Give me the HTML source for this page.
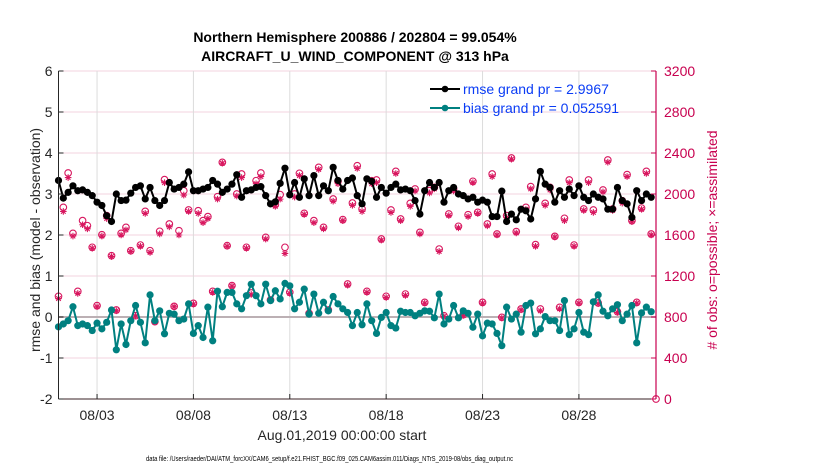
<!DOCTYPE html>
<html><head><meta charset="utf-8"><style>
body{margin:0;background:#fff;}
svg{display:block;font-family:"Liberation Sans",Arial,sans-serif;}
</style></head><body>
<svg id="chart" width="830" height="470"></svg>
<script>
const rmse=[3.33,2.90,3.04,3.20,3.08,3.10,3.04,2.96,2.80,2.72,2.47,2.33,3.00,2.84,2.85,3.02,3.16,3.20,2.88,3.16,2.84,2.72,2.84,3.28,3.12,3.16,3.24,3.54,3.08,3.08,3.12,3.16,3.33,3.24,3.04,3.12,3.24,3.47,2.92,3.08,3.10,3.16,3.18,2.96,2.76,2.81,3.26,3.63,2.98,3.28,2.92,3.37,2.96,3.45,2.96,3.20,3.08,3.65,3.33,3.12,3.33,
3.39,2.96,2.76,3.37,3.31,2.92,3.16,3.02,3.16,3.24,3.10,3.12,3.08,2.84,2.51,3.08,3.28,3.16,3.28,2.80,3.08,3.16,3.00,2.96,2.88,2.92,2.80,2.85,2.80,2.45,2.45,3.07,2.33,2.51,2.37,2.63,2.59,2.39,2.88,3.55,3.24,3.16,2.80,3.08,2.92,3.12,2.96,3.20,2.92,2.84,3.00,2.92,2.88,2.63,2.63,3.16,2.84,2.76,2.43,3.08,2.84,3.00,2.92];
const bias=[-0.24,-0.17,-0.09,0.25,-0.21,-0.17,-0.21,-0.33,-0.15,-0.29,-0.13,0.17,-0.80,-0.17,-0.67,-0.09,0.28,-0.13,-0.63,0.54,-0.09,0.15,-0.41,0.09,0.07,-0.09,-0.05,0.32,-0.40,-0.21,-0.50,0.24,-0.58,0.63,0.25,0.60,0.60,0.32,0.20,0.52,0.80,0.52,0.32,0.80,0.40,0.64,0.44,0.82,0.76,0.20,0.36,0.68,0.07,0.56,0.09,0.36,0.15,0.50,0.32,0.20,0.11,
-0.21,0.11,-0.19,0.32,-0.09,-0.40,-0.01,0.11,-0.21,-0.27,0.14,0.11,0.11,0.03,0.09,0.15,0.14,-0.02,0.56,-0.17,-0.05,0.28,-0.02,0.15,0.09,-0.25,0.07,-0.46,-0.15,-0.17,-0.40,-0.70,0.24,-0.05,0.07,-0.37,0.28,0.34,-0.41,-0.29,0.01,-0.09,-0.09,-0.33,0.40,-0.43,-0.29,0.11,-0.37,-0.43,0.37,0.54,0.14,0.03,0.20,0.30,-0.09,0.07,0.28,-0.63,0.10,0.24,0.13];
const obsPossible=[1002,1870,2205,1616,1050,1740,1691,1480,911,1603,1789,1398,868,1616,1675,1447,813,1502,1831,1447,755,1636,2140,1707,904,1642,2032,1844,933,1837,1740,1779,1050,1974,2309,1496,1106,2000,2195,1480,1034,2130,2205,1577,966,1896,1994,1480,1041,2000,2202,1811,836,1740,2260,1675,868,1951,2124,1750,1122,
1912,2276,1854,1050,2130,2137,1561,1002,1844,2221,1756,1024,1909,2049,1626,943,2033,2065,1463,813,1805,2049,1685,823,1798,2124,1821,943,1707,2195,1610,797,1789,2351,1633,878,1870,2072,1506,878,1909,2065,1587,894,1763,2137,1502,943,1854,2137,1844,937,2039,2332,1854,852,1935,2189,1740,943,1863,2221,1610];
const obsAssim=[980,1830,2160,1590,1030,1700,1660,1470,900,1590,1760,1390,860,1600,1650,1440,810,1490,1810,1430,750,1610,2110,1680,900,1600,1990,1830,925,1810,1720,1760,1040,1950,2300,1490,1100,1980,2160,1470,1020,2100,2170,1560,960,1880,1950,1420,1030,1970,2180,1800,830,1720,2240,1660,860,1930,2100,1740,1110,
1890,2250,1830,1040,2100,2110,1550,990,1820,2200,1740,1010,1880,2030,1610,935,2010,2050,1440,805,1790,2030,1670,815,1780,2110,1810,935,1690,2170,1600,790,1770,2340,1620,870,1850,2050,1490,860,1890,2040,1580,880,1740,2110,1490,935,1840,2110,1820,930,2020,2310,1840,845,1910,2170,1730,935,1850,2200,1600];
const yTicks=[-2,-1,0,1,2,3,4,5,6];
const y2Ticks=[0,400,800,1200,1600,2000,2400,2800,3200];
const xTickDays=[2,7,12,17,22,27];
const xTickLabels=["08/03","08/08","08/13","08/18","08/23","08/28"];

const NS="http://www.w3.org/2000/svg";
const svg=document.getElementById('chart');
const L=58.5,R=656,T=71,B=399,NDAYS=31,STEP=0.25;
const xs=d=>L+(d/NDAYS)*(R-L);
const ys=v=>B-(v+2)/8*(B-T);
const ys2=v=>B-v/3200*(B-T);
function mk(tag,attrs,parent){const e=document.createElementNS(NS,tag);for(const k in attrs)e.setAttribute(k,attrs[k]);(parent||svg).appendChild(e);return e;}
function txt(s,attrs,parent){const e=mk('text',attrs,parent);e.textContent=s;return e;}

const grid=mk('g',{});


yTicks.forEach(v=>{mk('line',{x1:L,x2:R,y1:ys(v),y2:ys(v),stroke:'#f3d3df','stroke-width':1},grid);});
xTickDays.forEach(d=>{mk('line',{x1:xs(d),x2:xs(d),y1:T,y2:B,stroke:'#dcdcdc','stroke-width':1},grid);});
const zl=mk('line',{x1:L,x2:R,y1:ys(0),y2:ys(0),stroke:'#bcb0b4','stroke-width':2});



const og=mk('g',{});


const pink='#d8175f';
obsPossible.forEach((v,i)=>{mk('circle',{cx:xs(i*STEP),cy:ys2(v),r:3.3,fill:'none',stroke:pink,'stroke-width':1.1},og);});
obsAssim.forEach((v,i)=>{const x=xs(i*STEP),y=ys2(v);const s=3.3;
 mk('path',{d:`M${x-s},${y}H${x+s}M${x},${y-s}V${y+s}M${x-s*0.7},${y-s*0.7}L${x+s*0.7},${y+s*0.7}M${x-s*0.7},${y+s*0.7}L${x+s*0.7},${y-s*0.7}`,stroke:pink,'stroke-width':1.1,fill:'none'},og);});
mk('circle',{cx:R,cy:B,r:3.3,fill:'none',stroke:pink,'stroke-width':1.1},og);

const rg=mk('g',{});


mk('polyline',{points:rmse.map((v,i)=>xs(i*STEP)+','+ys(v)).join(' '),fill:'none',stroke:'#000','stroke-width':2},rg);
rmse.forEach((v,i)=>{mk('circle',{cx:xs(i*STEP),cy:ys(v),r:3.6,fill:'#000'},rg);});
const bg=mk('g',{});


mk('polyline',{points:bias.map((v,i)=>xs(i*STEP)+','+ys(v)).join(' '),fill:'none',stroke:'#008080','stroke-width':2},bg);
bias.forEach((v,i)=>{mk('circle',{cx:xs(i*STEP),cy:ys(v),r:3.6,fill:'#008080'},bg);});

const ax=mk('g',{});


mk('line',{x1:L,x2:L,y1:T,y2:B,stroke:'#262626','stroke-width':1},ax);
mk('line',{x1:L,x2:R,y1:B,y2:B,stroke:'#3a2026','stroke-width':1},ax);
mk('line',{x1:R,x2:R,y1:T,y2:B,stroke:'#c8004f','stroke-width':1.2},ax);
yTicks.forEach(v=>{mk('line',{x1:L,x2:L+5,y1:ys(v),y2:ys(v),stroke:'#262626'},ax);
 txt(String(v),{x:L-6,y:ys(v)+5,'text-anchor':'end','font-size':14,fill:'#262626'},ax);});
y2Ticks.forEach(v=>{mk('line',{x1:R-5,x2:R,y1:ys2(v),y2:ys2(v),stroke:'#c8004f'},ax);
 txt(String(v),{x:R+8,y:ys2(v)+5,'font-size':14,fill:'#c8004f'},ax);});
xTickDays.forEach((d,i)=>{mk('line',{x1:xs(d),x2:xs(d),y1:B,y2:B-5,stroke:'#262626'},ax);
 txt(xTickLabels[i],{x:xs(d),y:B+21,'text-anchor':'middle','font-size':14,fill:'#262626'},ax);});
</script>
<div style="position:absolute;left:0;top:0;width:830px;height:470px;pointer-events:none;">
<svg width="830" height="470" style="position:absolute;left:0;top:0;font-family:'Liberation Sans',Arial,sans-serif;">
<text x="355" y="42" text-anchor="middle" font-size="14" font-weight="bold" fill="#000">Northern Hemisphere 200886 / 202804 = 99.054%</text>
<text x="355" y="61" text-anchor="middle" font-size="14" font-weight="bold" fill="#000">AIRCRAFT_U_WIND_COMPONENT @ 313 hPa</text>
<text transform="translate(40,240) rotate(-90)" text-anchor="middle" font-size="14" fill="#262626">rmse and bias (model - observation)</text>
<text transform="translate(717,240) rotate(-90)" text-anchor="middle" font-size="14" fill="#c8004f"># of obs: o=possible; ×=assimilated</text>
<text x="342" y="440" text-anchor="middle" font-size="14" fill="#262626">Aug.01,2019 00:00:00 start</text>
<text x="146" y="461" font-size="7" fill="#000" textLength="367" lengthAdjust="spacingAndGlyphs">data file: /Users/raeder/DAI/ATM_forcXX/CAM6_setup/f.e21.FHIST_BGC.f09_025.CAM6assim.011/Diags_NTrS_2019-08/obs_diag_output.nc</text>
<g>
<line x1="430" y1="89" x2="460" y2="89" stroke="#000" stroke-width="2"/><circle cx="445" cy="89" r="3.3" fill="#000"/>
<text x="463" y="94" font-size="14" fill="#0a3cf5">rmse grand pr = 2.9967</text>
<line x1="430" y1="108" x2="460" y2="108" stroke="#008080" stroke-width="2"/><circle cx="445" cy="108" r="3.3" fill="#008080"/>
<text x="463" y="113" font-size="14" fill="#0a3cf5">bias grand pr = 0.052591</text>
</g>
</svg></div>
</body></html>
